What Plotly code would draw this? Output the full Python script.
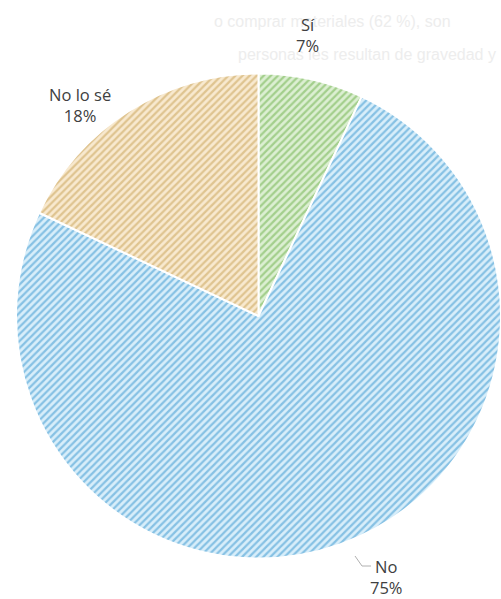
import plotly.graph_objects as go

labels = ["Sí", "No", "No lo sé"]
values = [7, 75, 18]
bg_colors = ["#dcefd2", "#d8eefa", "#f8e9cf"]
fg_colors = ["#a3cf8c", "#86c1e4", "#dfc490"]
text_labels = ["Sí<br>7%", "No<br>75%", "No lo sé<br>18%"]

fig = go.Figure(go.Pie(
    labels=labels,
    values=values,
    sort=False,
    direction="clockwise",
    rotation=0,
    textinfo="none",
    hoverinfo="label+percent",
    showlegend=False,
    marker=dict(
        colors=bg_colors,
        line=dict(color="white", width=2),
        pattern=dict(shape="/", fgcolor=fg_colors, bgcolor=bg_colors,
                     size=5, solidity=0.45),
    ),
    domain=dict(x=[16/501, 1], y=[0.05, 0.895]),
))

font = dict(family="Open Sans, Liberation Sans, sans-serif", size=16.5, color="#404040")
ghost = dict(family="Liberation Sans, sans-serif", size=16, color="#ededed")

annos = [
    dict(text="o comprar materiales (62 %), son", x=212/501, y=1-22/599, xanchor="left", yanchor="middle", font=ghost),
    dict(text="personas les resultan de gravedad y", x=236/501, y=1-55/599, xanchor="left", yanchor="middle", font=ghost),
    dict(text=text_labels[0], x=307/501, y=1-35/599, xanchor="center", yanchor="middle", font=font),
    dict(text=text_labels[2], x=80/501, y=1-105/599, xanchor="center", yanchor="middle", font=font),
    dict(text=text_labels[1], x=386/501, y=1-577/599, xanchor="center", yanchor="middle", font=font),
]
for a in annos:
    a.update(xref="paper", yref="paper", showarrow=False, align="center")

fig.update_layout(
    width=501, height=599,
    margin=dict(l=0, r=0, t=0, b=0),
    paper_bgcolor="white",
    plot_bgcolor="white",
    annotations=annos,
    shapes=[dict(type="path", xref="paper", yref="paper",
                 path=f"M {355/501} {1-556/599} L {362/501} {1-566/599} L {371/501} {1-566/599}",
                 line=dict(color="#b0b0b0", width=1))],
)

fig.write_html("out.html")
